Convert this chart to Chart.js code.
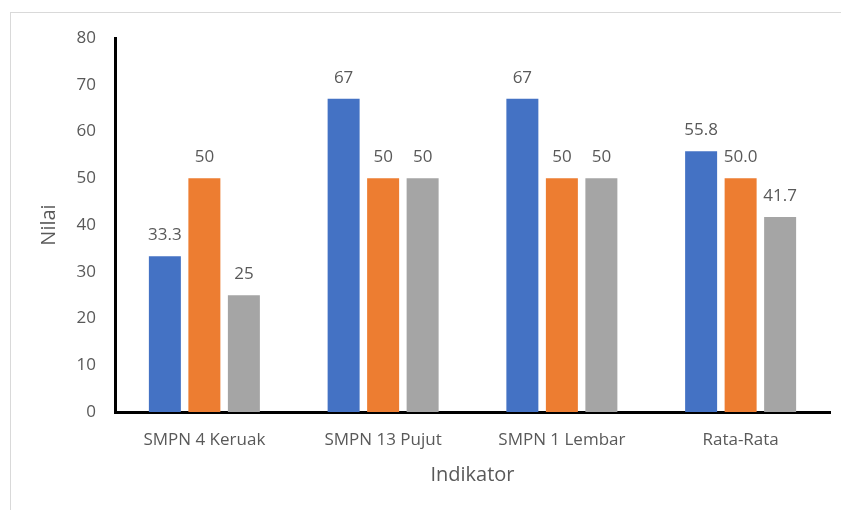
<!DOCTYPE html>
<html><head><meta charset="utf-8">
<script src="https://cdn.jsdelivr.net/npm/chart.js@4/dist/chart.umd.min.js"></script>
<style>
html,body{margin:0;padding:0;background:#fff;}
#wrap{position:relative;width:841px;height:510px;overflow:hidden;}
#frame{position:absolute;left:10px;top:12px;width:900px;height:600px;border-left:1px solid #d9d9d9;border-top:1px solid #d9d9d9;}
canvas{position:absolute;left:0;top:0;}
</style></head>
<body><div id="wrap"><div id="frame"></div><canvas id="c" width="841" height="510"></canvas></div>
<script>
const categories = ["SMPN 4 Keruak", "SMPN 13 Pujut", "SMPN 1 Lembar", "Rata-Rata"];
const series1 = [33.3, 67, 67, 55.8];
const series2 = [50, 50, 50, 50.0];
const series3 = [25, 50, 50, 41.7];
const labels1 = ["33.3", "67", "67", "55.8"];
const labels2 = ["50", "50", "50", "50.0"];
const labels3 = ["25", "50", "50", "41.7"];
const yTicks = [0, 10, 20, 30, 40, 50, 60, 70, 80];
const colors = ["#4472C4", "#ED7D31", "#A5A5A5"];
const FONT = "'Open Sans', sans-serif";
const textColor = "#595959";

const valueLabels = {
  id: 'valueLabels',
  afterDatasetsDraw(chart) {
    const ctx = chart.ctx;
    ctx.save();
    ctx.font = "17px " + FONT;
    ctx.fillStyle = textColor;
    ctx.textAlign = 'center';
    ctx.textBaseline = 'middle';
    chart.data.datasets.forEach((ds, i) => {
      const meta = chart.getDatasetMeta(i);
      meta.data.forEach((bar, j) => {
        ctx.fillText(ds.valueLabels[j], bar.x, bar.y - 21);
      });
    });
    ctx.restore();
  }
};

new Chart(document.getElementById('c'), {
  type: 'bar',
  data: {
    labels: categories,
    datasets: [
      {label: 'A', data: series1, valueLabels: labels1, backgroundColor: colors[0]},
      {label: 'B', data: series2, valueLabels: labels2, backgroundColor: colors[1]},
      {label: 'C', data: series3, valueLabels: labels3, backgroundColor: colors[2]}
    ]
  },
  options: {
    responsive: false,
    animation: false,
    devicePixelRatio: 1,
    categoryPercentage: 0.663,
    barPercentage: 0.81,
    layout: {padding: {left: 33, right: 11, top: 38, bottom: 19}},
    plugins: {legend: {display: false}, tooltip: {enabled: false}},
    scales: {
      x: {
        grid: {display: false, drawTicks: false},
        border: {display: true, color: '#000', width: 3},
        ticks: {color: textColor, font: {family: FONT, size: 17}, padding: 18},
        title: {display: true, text: 'Indikator', color: textColor, font: {family: FONT, size: 20}},
        afterFit(s) { s.height = 510 - 412 - 19; }
      },
      y: {
        min: 0, max: 80,
        grid: {display: false, drawTicks: false},
        border: {display: true, color: '#000', width: 3},
        afterBuildTicks(s) { s.ticks = yTicks.map(v => ({value: v})); },
        ticks: {color: textColor, font: {family: FONT, size: 17}, padding: 19},
        title: {display: true, text: 'Nilai', color: textColor, font: {family: FONT, size: 20}},
        afterFit(s) { s.width = 115 - 33; }
      }
    }
  },
  plugins: [valueLabels]
});
</script></body></html>
